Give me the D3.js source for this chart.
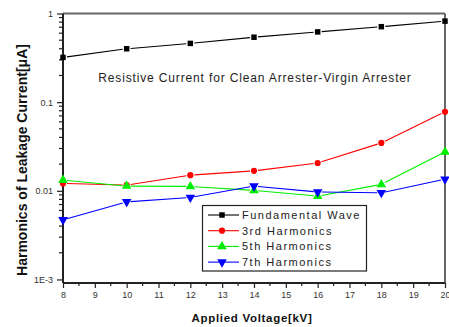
<!DOCTYPE html>
<html>
<head>
<meta charset="utf-8">
<script src="https://cdn.jsdelivr.net/npm/d3@7/dist/d3.min.js"></script>
<style>
  body { margin: 0; background: #fff; }
  svg { display: block; font-family: "Liberation Sans", Arial, sans-serif; }
</style>
</head>
<body>
<svg id="chart" width="449" height="327"></svg>
<script>
// Applied voltage (kV)
const voltages = [8, 10, 12, 14, 16, 18, 20];
// Resistive leakage current harmonics (μA)
const fundamental = [0.32, 0.40, 0.46, 0.54, 0.62, 0.71, 0.82];
const harmonic3 = [0.0121, 0.0116, 0.0150, 0.0168, 0.0206, 0.0347, 0.0777];
const harmonic5 = [0.0132, 0.0113, 0.0112, 0.0101, 0.0087, 0.0118, 0.0274];
const harmonic7 = [0.0047, 0.0075, 0.0084, 0.0113, 0.0097, 0.0095, 0.0135];
const seriesNames = ["Fundamental Wave", "3rd Harmonics", "5th Harmonics", "7th Harmonics"];
const xTickLabels = ["8", "9", "10", "11", "12", "13", "14", "15", "16", "17", "18", "19", "20"];
const yTickLabels = ["1E-3", "0.01", "0.1", "1"];

const svg = d3.select("#chart");
const mLeft = 63, mRight = 445, mTop = 13.5, mBottom = 283;

const x = d3.scaleLinear().domain([8, 20]).range([mLeft, mRight]);
const y = d3.scaleLog().domain([Math.pow(10, -3.04), 1]).range([mBottom, mTop]);

const series = [
  { name: seriesNames[0], values: fundamental, color: "#000000", shape: d3.symbolSquare, size: 30, rot: 0 },
  { name: seriesNames[1], values: harmonic3, color: "#ff0000", shape: d3.symbolCircle, size: 30, rot: 0 },
  { name: seriesNames[2], values: harmonic5, color: "#00ee00", shape: d3.symbolTriangle, size: 40, rot: 0 },
  { name: seriesNames[3], values: harmonic7, color: "#0000ff", shape: d3.symbolTriangle, size: 40, rot: 180 }
];

// Axes: bottom with half-unit minor ticks, left log with decade labels
const xMajor = d3.range(8, 20.01, 1);
const xMinor = d3.range(8.5, 20, 1);
const gx = svg.append("g").attr("transform", `translate(0,${mBottom})`);
gx.call(d3.axisBottom(x).tickValues(xMajor).tickSize(5).tickPadding(4)
  .tickFormat((d, i) => xTickLabels[i]));
gx.select(".domain").remove();
gx.selectAll(".tick line").attr("stroke", "#222").attr("stroke-width", 1.2);
gx.selectAll(".tick text").attr("font-size", 9).attr("fill", "#333");
gx.selectAll(".minor").data(xMinor).enter().append("line")
  .attr("x1", d => x(d)).attr("x2", d => x(d)).attr("y1", 0).attr("y2", 3)
  .attr("stroke", "#222").attr("stroke-width", 1.2);

const yMajor = [0.001, 0.01, 0.1, 1];
const yMinor = [];
[0.001, 0.01, 0.1].forEach(b => { for (let k = 2; k <= 9; k++) yMinor.push(b * k); });
const gy = svg.append("g").attr("transform", `translate(${mLeft},0)`);
gy.call(d3.axisLeft(y).tickValues(yMajor).tickSize(6).tickPadding(4)
  .tickFormat((d, i) => yTickLabels[i]));
gy.select(".domain").remove();
gy.selectAll(".tick line").attr("stroke", "#222").attr("stroke-width", 1.2);
gy.selectAll(".tick text").attr("font-size", 9).attr("fill", "#333");
gy.selectAll(".minor").data(yMinor).enter().append("line")
  .attr("x1", 0).attr("x2", -4).attr("y1", d => y(d)).attr("y2", d => y(d))
  .attr("stroke", "#222").attr("stroke-width", 1.2);

// Frame
svg.append("line").attr("x1", mLeft).attr("x2", mRight).attr("y1", mTop).attr("y2", mTop)
  .attr("stroke", "#666").attr("stroke-width", 2);
svg.append("line").attr("x1", mRight).attr("x2", mRight).attr("y1", mTop).attr("y2", mBottom)
  .attr("stroke", "#666").attr("stroke-width", 2);
svg.append("line").attr("x1", mLeft).attr("x2", mRight).attr("y1", mBottom).attr("y2", mBottom)
  .attr("stroke", "#222").attr("stroke-width", 2);
svg.append("line").attr("x1", mLeft).attr("x2", mLeft).attr("y1", mTop).attr("y2", mBottom)
  .attr("stroke", "#222").attr("stroke-width", 2);

// Series lines, broken just around each marker
const gap = 4;
series.forEach(s => {
  const pts = voltages.map((v, i) => [x(v), y(s.values[i])]);
  const g = svg.append("g");
  for (let i = 0; i < pts.length - 1; i++) {
    const [x1, y1] = pts[i], [x2, y2] = pts[i + 1];
    const len = Math.hypot(x2 - x1, y2 - y1);
    const ux = (x2 - x1) / len, uy = (y2 - y1) / len;
    g.append("line")
      .attr("x1", x1 + ux * gap).attr("y1", y1 + uy * gap)
      .attr("x2", x2 - ux * gap).attr("y2", y2 - uy * gap)
      .attr("stroke", s.color).attr("stroke-width", 1.1);
  }
  g.selectAll("path").data(pts).enter().append("path")
    .attr("d", d3.symbol().type(s.shape).size(s.size))
    .attr("transform", d => `translate(${d[0]},${d[1]}) rotate(${s.rot})`)
    .attr("fill", s.color);
});

// Annotation
svg.append("text").attr("x", 255).attr("y", 82).attr("text-anchor", "middle")
  .attr("font-size", 12).attr("letter-spacing", 0.85).attr("fill", "#222")
  .text("Resistive Current for Clean Arrester-Virgin Arrester");

// Legend
const lg = svg.append("g");
lg.append("rect").attr("x", 202.5).attr("y", 205.5).attr("width", 164).attr("height", 65.5)
  .attr("fill", "#fff").attr("stroke", "#222").attr("stroke-width", 1.2);
series.forEach((s, i) => {
  const ry = 215 + i * 15.7;
  lg.append("line").attr("x1", 208).attr("x2", 239).attr("y1", ry).attr("y2", ry)
    .attr("stroke", s.color).attr("stroke-width", 1.1);
  lg.append("path").attr("d", d3.symbol().type(s.shape).size(s.size))
    .attr("transform", `translate(222,${ry}) rotate(${s.rot})`).attr("fill", s.color);
  lg.append("text").attr("x", 242).attr("y", ry + 4).attr("font-size", 11)
    .attr("letter-spacing", 1.5).attr("fill", "#222").text(s.name);
});

// Axis titles
svg.append("text").attr("x", 252).attr("y", 322).attr("text-anchor", "middle")
  .attr("font-size", 11.5).attr("font-weight", "bold").attr("letter-spacing", 0.7)
  .attr("fill", "#111").text("Applied Voltage[kV]");
svg.append("text").attr("transform", "translate(27,160) rotate(-90)")
  .attr("text-anchor", "middle").attr("font-size", 14).attr("font-weight", "bold")
  .attr("fill", "#111").text("Harmonics of Leakage Current[μA]");
</script>
</body>
</html>
